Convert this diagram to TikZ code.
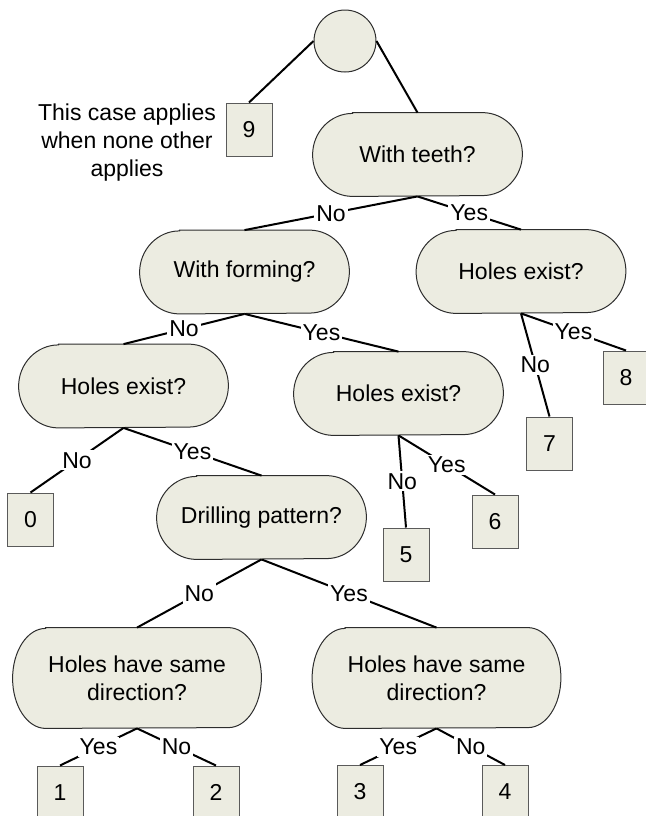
\documentclass[tikz,border=0pt]{standalone}
\usepackage{fontspec}
\setmainfont{Liberation Sans}
\usetikzlibrary{backgrounds}

\definecolor{nodefill}{RGB}{236,236,225}
\definecolor{edgegray}{RGB}{45,45,45}
\definecolor{leafgray}{RGB}{90,90,90}

\begin{document}
\begin{tikzpicture}[
  x=0.5pt, y=-0.5pt,
  every node/.style={font=\fontsize{11.5}{14}\selectfont},
  dec/.style={rectangle, inner sep=0pt, align=center,
              minimum width=104.5pt, minimum height=41.5pt},
  decbig/.style={dec, minimum width=124pt, minimum height=50pt},
  capsule/.style={draw=edgegray, fill=nodefill, line width=0.5pt},
  leaf/.style={rectangle, draw=leafgray, fill=nodefill, line width=0.5pt,
               minimum width=23pt, minimum height=26.5pt, inner sep=0pt},
  rootnode/.style={circle, draw=edgegray, fill=nodefill, line width=0.5pt,
                   minimum size=31pt, inner sep=0pt},
  conn/.style={draw=black, line width=1pt},
  lbl/.style={fill=white, inner sep=1pt}
]
\useasboundingbox (0,0) rectangle (645,816);

% root and the default case
\node[rootnode] (root) at (345,41) {};
\node[leaf] (n9) at (249,129.5) {9};
\node[align=center] (note) at (127,143) {This case applies\\when none other\\applies};

% decision nodes (outlines drawn on the background layer below)
\node[dec] (teeth)   at (417.5,154.5) {With teeth?};
\node[dec] (forming) at (244.5,272)   {With forming?};
\node[dec] (holesR)  at (521,271.5)   {Holes exist?};
\node[dec] (holesL)  at (123.5,386)   {Holes exist?};
\node[dec] (holesM)  at (398.5,393.5) {Holes exist?};
\node[dec] (drill)   at (261.5,517.5) {Drilling pattern?};
\node[decbig] (sameL) at (137,678)    {Holes have same\\direction?};
\node[decbig] (sameR) at (436.5,678)  {Holes have same\\direction?};

% leaves
\node[leaf] (n0) at (30.5,519.5) {0};
\node[leaf] (n5) at (406,554.5)  {5};
\node[leaf] (n6) at (495,521.5)  {6};
\node[leaf] (n7) at (549.5,443.5) {7};
\node[leaf] (n8) at (626,377.5)  {8};
\node[leaf] (n1) at (60,792.5)   {1};
\node[leaf] (n2) at (216,792.5)  {2};
\node[leaf] (n3) at (360,792)    {3};
\node[leaf] (n4) at (505,792)    {4};

% capsule outlines with elliptic ends
\begin{scope}[on background layer]
\foreach \nd/\rx/\ry in {teeth/20pt/20.75pt, forming/20pt/20.75pt,
                         holesR/20pt/20.75pt, holesL/20pt/20.75pt,
                         holesM/20pt/20.75pt, drill/20pt/20.75pt,
                         sameL/16.5pt/25pt, sameR/16.5pt/25pt}
  \path[capsule] ([xshift=\rx]\nd.north west) -- ([xshift=-\rx]\nd.north east)
    arc[start angle=90, end angle=-90, x radius=\rx, y radius=\ry]
    -- ([xshift=\rx]\nd.south west)
    arc[start angle=270, end angle=90, x radius=\rx, y radius=\ry] -- cycle;
\end{scope}

% connectors
\draw[conn] (root.west) -- (n9.north);
\draw[conn] (root.east) -- (teeth.north);

\draw[conn] (teeth.south) -- node[lbl] {No}  (forming.north);
\draw[conn] (teeth.south) -- node[lbl] {Yes} (holesR.north);

\draw[conn] (holesR.south) -- node[lbl] {No}  (n7.north);
\draw[conn] (holesR.south) -- node[lbl] {Yes} (n8.north);

\draw[conn] (forming.south) -- node[lbl] {No}  (holesL.north);
\draw[conn] (forming.south) -- node[lbl] {Yes} (holesM.north);

\draw[conn] (holesL.south) -- node[lbl] {No}  (n0.north);
\draw[conn] (holesL.south) -- node[lbl] {Yes} (drill.north);

\draw[conn] (holesM.south) -- node[lbl] {No}  (n5.north);
\draw[conn] (holesM.south) -- node[lbl] {Yes} (n6.north);

\draw[conn] (drill.south) -- node[lbl] {No}  (sameL.north);
\draw[conn] (drill.south) -- node[lbl] {Yes} (sameR.north);

\draw[conn] (sameL.south) -- node[lbl] {Yes} (n1.north);
\draw[conn] (sameL.south) -- node[lbl] {No}  (n2.north);

\draw[conn] (sameR.south) -- node[lbl] {Yes} (n3.north);
\draw[conn] (sameR.south) -- node[lbl] {No}  (n4.north);
\end{tikzpicture}
\end{document}
